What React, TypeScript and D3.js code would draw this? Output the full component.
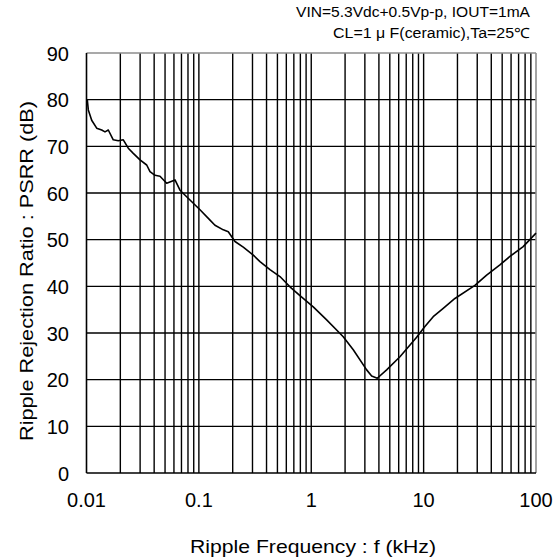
import React from "react";
import * as d3 from "d3";

const freqKHz = [0.01016, 0.01038, 0.01112, 0.01232, 0.01365, 0.01461, 0.01563, 0.01731, 0.01918, 0.02125, 0.02354, 0.02608, 0.02992, 0.03433, 0.03673, 0.04069, 0.04508, 0.05171, 0.06131, 0.06792, 0.08333, 0.1023, 0.1256, 0.1391, 0.1649, 0.1827, 0.2096, 0.2483, 0.3048, 0.3497, 0.4292, 0.5266, 0.6462, 0.7933, 1.042, 1.371, 1.926, 2.365, 3.112, 3.447, 3.866, 4.687, 6.155, 8.666, 10.27, 12.17, 14.94, 18.99, 28.6, 36.36, 47.73, 58.6, 76.9, 100];
const psrrDb = [80, 77.8, 75.6, 73.9, 73.5, 73.1, 73.5, 71.4, 71.2, 71.4, 69.6, 68.5, 67.1, 66, 64.6, 63.8, 63.6, 62.1, 62.8, 60.6, 58.5, 56.4, 54.2, 53.1, 52.1, 51.7, 49.6, 48.4, 46.7, 45.3, 43.6, 42.1, 39.9, 38, 35.6, 32.8, 29.2, 26.4, 22.1, 20.8, 20.3, 22.1, 24.9, 29.1, 31.4, 33.5, 35.3, 37.4, 40.2, 42.4, 44.6, 46.4, 48.5, 51.4];

const xTickLabels = ["0.01", "0.1", "1", "10", "100"];
const xTickValues = [0.01, 0.1, 1, 10, 100];
const yTickValues = [0, 10, 20, 30, 40, 50, 60, 70, 80, 90];

const headerLines = ["VIN=5.3Vdc+0.5Vp-p, IOUT=1mA", "CL=1 μ F(ceramic),Ta=25℃"];
const xTitle = "Ripple Frequency : f (kHz)";
const yTitle = "Ripple Rejection Ratio : PSRR (dB)";

const W = 556;
const H = 558;
const L = 86.5;
const R = 536;
const T = 53;
const B = 473;

const FONT = "'Liberation Sans', Arial, sans-serif";

export default function App() {
  const x = d3.scaleLog().domain([0.01, 100]).range([L, R]);
  const y = d3.scaleLinear().domain([0, 90]).range([B, T]);

  const minorX: number[] = [];
  for (let e = -2; e < 2; e++) {
    for (let m = 1; m <= 9; m++) {
      const v = m * Math.pow(10, e);
      if (v > 0.01 && v < 100) minorX.push(v);
    }
  }

  const pts: [number, number][] = freqKHz.map((f, i) => [f, psrrDb[i]]);
  const line = d3
    .line<[number, number]>()
    .x((d) => x(d[0]))
    .y((d) => y(d[1]));

  return (
    <svg width={W} height={H} style={{ position: "absolute", left: 0, top: 0, background: "#fff" }}>
      <rect x={0} y={0} width={W} height={H} fill="#fff" />
      {minorX.map((v, i) => (
        <line key={"gx" + i} x1={x(v)} x2={x(v)} y1={T} y2={B} stroke="#000" strokeWidth={1.4} />
      ))}
      {yTickValues.slice(1, -1).map((v, i) => (
        <line key={"gy" + i} x1={L} x2={R} y1={y(v)} y2={y(v)} stroke="#000" strokeWidth={1.4} />
      ))}
      <line x1={L} x2={R} y1={T} y2={T} stroke="#8c8c8c" strokeWidth={1.6} />
      <line x1={R} x2={R} y1={T} y2={B} stroke="#8c8c8c" strokeWidth={1.6} />
      <line x1={L} x2={L} y1={T} y2={B} stroke="#000" strokeWidth={1.6} />
      <line x1={L} x2={R} y1={B} y2={B} stroke="#000" strokeWidth={1.6} />
      <path d={line(pts) || ""} fill="none" stroke="#000" strokeWidth={1.6} strokeLinejoin="round" />
      {yTickValues.map((v) => (
        <text key={"yl" + v} x={69} y={y(v) + 7.5} textAnchor="end" fontFamily={FONT} fontSize={20} fill="#000">
          {v}
        </text>
      ))}
      {xTickValues.map((v, i) => (
        <text key={"xl" + v} x={x(v)} y={507} textAnchor="middle" fontFamily={FONT} fontSize={20} fill="#000">
          {xTickLabels[i]}
        </text>
      ))}
      <text
        x={313}
        y={553}
        textAnchor="middle"
        fontFamily={FONT}
        fontSize={19}
        fill="#000"
        textLength={246}
        lengthAdjust="spacingAndGlyphs"
      >
        {xTitle}
      </text>
      <text
        transform={`translate(33, 271) rotate(-90)`}
        textAnchor="middle"
        fontFamily={FONT}
        fontSize={19}
        fill="#000"
        textLength={340}
        lengthAdjust="spacingAndGlyphs"
      >
        {yTitle}
      </text>
      <text
        x={530}
        y={17}
        textAnchor="end"
        fontFamily={FONT}
        fontSize={14}
        fill="#000"
        textLength={234}
        lengthAdjust="spacingAndGlyphs"
      >
        {headerLines[0]}
      </text>
      <text
        x={530}
        y={38}
        textAnchor="end"
        fontFamily={FONT}
        fontSize={14}
        fill="#000"
        textLength={197}
        lengthAdjust="spacingAndGlyphs"
      >
        {headerLines[1]}
      </text>
    </svg>
  );
}
